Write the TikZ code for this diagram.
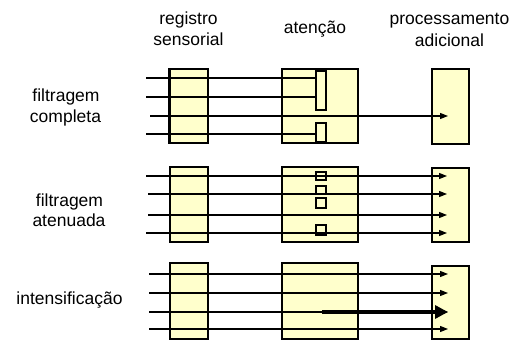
\documentclass[tikz,border=0pt]{standalone}
\usepackage{fontspec}
\setmainfont{Liberation Sans}
\usetikzlibrary{arrows.meta}
\definecolor{boxfill}{RGB}{255,255,204}
\tikzset{
  stage/.style={draw=black, fill=boxfill, line width=1.3pt, inner sep=0pt},
  filt/.style={draw=black, fill=boxfill, line width=1.2pt, inner sep=0pt, minimum width=10pt},
  chan/.style={line width=1.2pt},
  chanarrow/.style={line width=1.2pt, -{Triangle[length=8pt,width=6pt]}},
  bigarrow/.style={line width=4pt, -{Triangle[length=13pt,width=13pt]}},
  lbl/.style={font=\fontsize{17.5}{21}\selectfont, inner sep=0pt, align=center},
}
\begin{document}
\begin{tikzpicture}[x=1pt,y=-1pt]
\useasboundingbox (0,0) rectangle (520,342);
% headers
\node[lbl, anchor=base] (hreg) at (188.5,25) {registro};
\node[lbl, anchor=base] (hsen) at (188.5,46) {sensorial};
\node[lbl, anchor=base] (hat) at (315,34) {atenção};
\node[lbl, anchor=base] (hpr) at (449.5,25) {processamento};
\node[lbl, anchor=base] (had) at (449.5,47) {adicional};
% left labels
\node[lbl, anchor=base] (l1a) at (66,102) {filtragem};
\node[lbl, anchor=base] (l1b) at (65.5,123) {completa};
\node[lbl, anchor=base] (l2a) at (69.5,207) {filtragem};
\node[lbl, anchor=base] (l2b) at (69,227) {atenuada};
\node[lbl, anchor=base] (l3) at (69.5,305) {intensificação};

% ---------- row 1 ----------
\node[stage, minimum width=38pt, minimum height=74pt] (r1) at (189,106) {};
\node[stage, minimum width=76pt, minimum height=74pt] (a1) at (320,106) {};
\node[stage, minimum width=37pt, minimum height=75pt] (p1) at (450.5,106.5) {};
\draw[line width=3pt] (r1.north west) -- (r1.south west);
\node[filt, minimum height=39pt] (f1a) at (321,90.5) {};
\node[filt, minimum height=19pt] (f1b) at (321,132.5) {};
\coordinate (s11) at (146,78);
\coordinate (s12) at (146,97);
\coordinate (s13) at (150,116);
\coordinate (s14) at (146,134);
\coordinate (e13) at (448,116);
\draw[chan] (s11) -- (s11 -| f1a.west);
\draw[chan] (s12) -- (s12 -| f1a.west);
\draw[chanarrow] (s13) -- (e13);
\draw[chan] (s14) -- (s14 -| f1b.west);

% ---------- row 2 ----------
\node[stage, minimum width=38pt, minimum height=75pt] (r2) at (189,204.5) {};
\node[stage, minimum width=76pt, minimum height=75pt] (a2) at (320,204.5) {};
\node[stage, minimum width=37pt, minimum height=74pt] (p2) at (450.5,205) {};
\node[filt, minimum height=8pt] (f2a) at (321,176) {};
\node[filt, minimum height=8pt] (f2b) at (321,190) {};
\node[filt, minimum height=10pt] (f2c) at (321,203) {};
\node[filt, minimum height=10pt] (f2d) at (321,230) {};
\coordinate (s21) at (146,176);
\coordinate (s22) at (148,194);
\coordinate (s23) at (148,215);
\coordinate (s24) at (146,233);
\coordinate (e21) at (447,176);
\coordinate (e22) at (447,194);
\coordinate (e23) at (447,215);
\coordinate (e24) at (447,233);
\draw[chanarrow] (s21) -- (e21);
\draw[chanarrow] (s22) -- (e22);
\draw[chanarrow] (s23) -- (e23);
\draw[chanarrow] (s24) -- (e24);

% ---------- row 3 ----------
\node[stage, minimum width=38pt, minimum height=76pt] (r3) at (189,301) {};
\node[stage, minimum width=76pt, minimum height=76pt] (a3) at (320,301) {};
\node[stage, minimum width=37pt, minimum height=73pt] (p3) at (450.5,302.5) {};
\coordinate (s31) at (149,274);
\coordinate (s32) at (149,293);
\coordinate (s33) at (149,312);
\coordinate (s34) at (149,329);
\coordinate (e31) at (448,274);
\coordinate (e32) at (448,293);
\coordinate (e33) at (448,312);
\coordinate (e34) at (448,329);
\coordinate (b3) at (322,312);
\draw[chanarrow] (s31) -- (e31);
\draw[chanarrow] (s32) -- (e32);
\draw[chanarrow] (s33) -- (e33);
\draw[chanarrow] (s34) -- (e34);
\draw[bigarrow] (b3) -- (e33);
\end{tikzpicture}
\end{document}
